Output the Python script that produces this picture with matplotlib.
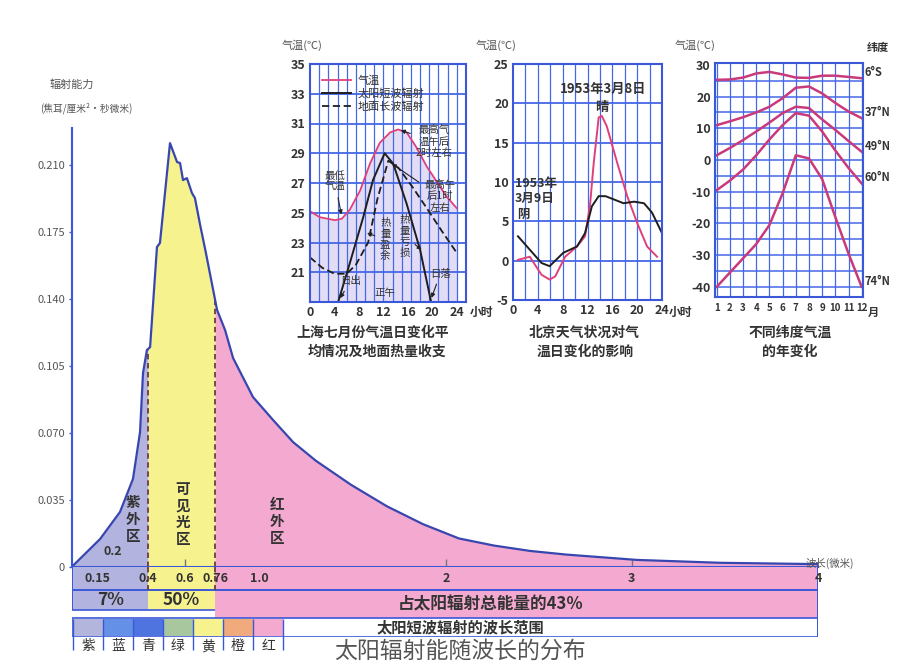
import numpy as np
import matplotlib
matplotlib.use('Agg')
import matplotlib.pyplot as plt
from matplotlib.patches import Rectangle
from matplotlib.lines import Line2D

plt.rcParams['font.family'] = ['Noto Sans CJK SC', 'DejaVu Sans']
plt.rcParams['axes.unicode_minus'] = False

# ---------------- data: solar spectrum ----------------
wavelength = [0.0, 0.142, 0.249, 0.319, 0.357, 0.373, 0.394, 0.411, 0.448, 0.464,
              0.518, 0.556, 0.572, 0.588, 0.609, 0.636, 0.652, 0.679, 0.711, 0.771,
              0.814, 0.857, 0.964, 1.072, 1.179, 1.302, 1.49, 1.684, 1.877, 2.071, 2.259,
              2.452, 2.646, 3.027, 3.473, 4.0]
irradiance = [0.001, 0.0146, 0.0287, 0.046, 0.0705, 0.1014, 0.1134, 0.1149, 0.1672, 0.1693,
              0.2215, 0.2116, 0.2111, 0.2022, 0.2032, 0.1954, 0.1928, 0.1792, 0.1641, 0.1343,
              0.1238, 0.1092, 0.0888, 0.0768, 0.0653, 0.0555, 0.043, 0.0317, 0.0224, 0.0149, 0.0112,
              0.0084, 0.0065, 0.0037, 0.0022, 0.0015]
y_ticks = [0, 0.035, 0.070, 0.105, 0.140, 0.175, 0.210]
y_tick_labels = ['0', '0.035', '0.070', '0.105', '0.140', '0.175', '0.210']
band_edges = [0.4, 0.76]
wl_tick_values = [0.13, 0.4, 0.6, 0.76, 1.0, 2, 3, 4]
wl_tick_labels = ['0.15', '0.4', '0.6', '0.76', '1.0', '2', '3', '4']
region_names = ['紫\n外\n区', '可\n见\n光\n区', '红\n外\n区']
energy_share = ['7%', '50%', '占太阳辐射总能量的43％']
color_names = ['紫', '蓝', '青', '绿', '黄', '橙', '红']

# ---------------- data: Shanghai, July daily cycle ----------------
sh_hours_temp = [0, 1.6, 4.1, 5.2, 6.5, 8.2, 9.8, 11.4, 13.1, 14.4, 15.8, 17.4, 19.1, 20.7, 22.3, 24]
sh_temp = [25.1, 24.7, 24.5, 24.6, 25.2, 26.5, 28.3, 29.7, 30.4, 30.6, 30.4, 29.4, 28.1, 27.1, 26.1, 25.3]
sh_hours_solar = [4.6, 6.5, 8.7, 10.3, 12.2, 13.6, 15.8, 18.0, 19.8]
sh_solar = [19.0, 21.6, 24.7, 27.2, 29.0, 28.3, 25.6, 22.5, 19.0]
sh_hours_ground = [0, 2, 4, 6, 7.5, 9.5, 11, 12.8, 14.5, 16.8, 19.1, 21.5, 24]
sh_ground = [22.0, 21.3, 20.9, 20.9, 21.5, 23.0, 25.9, 28.5, 28.0, 26.7, 25.3, 23.8, 22.3]

# ---------------- data: Beijing, March 1953 ----------------
bj_hours_sunny = [0.8, 2.7, 4.6, 5.9, 6.8, 8.4, 10.3, 11.6, 12.4, 13.0, 13.8, 14.3, 15.1, 16.8, 18.4, 20.0, 21.6, 23.2]
bj_sunny = [0.1, 0.5, -1.8, -2.4, -2.0, 0.5, 1.8, 3.1, 7.0, 12.4, 18.2, 18.4, 17.1, 12.4, 8.2, 4.8, 1.8, 0.5]
bj_hours_cloudy = [0.8, 2.7, 4.6, 5.9, 8.1, 10.3, 11.6, 12.7, 13.8, 14.9, 16.2, 17.8, 19.5, 21.1, 22.4, 24.0]
bj_cloudy = [3.1, 1.4, -0.3, -0.7, 1.0, 1.8, 3.5, 6.9, 8.2, 8.2, 7.8, 7.3, 7.5, 7.3, 6.1, 3.5]

# ---------------- data: annual cycle by latitude ----------------
months = list(range(1, 13))
lat_labels = ['6°S', '37°N', '49°N', '60°N', '74°N']
t_6s = [25.3, 25.4, 26.0, 27.3, 27.8, 27.0, 26.0, 25.9, 26.6, 26.6, 26.2, 25.8]
t_37n = [11.0, 12.2, 13.5, 15.0, 16.8, 19.5, 22.8, 23.2, 21.0, 18.0, 15.3, 13.2]
t_49n = [1.5, 3.8, 6.3, 9.0, 11.8, 14.8, 16.8, 16.4, 12.8, 9.5, 6.0, 2.6]
t_60n = [-9.5, -6.5, -3.0, 1.5, 6.5, 11.0, 14.8, 14.0, 9.0, 3.0, -2.5, -7.4]
t_74n = [-40, -35.5, -31, -26.5, -20.5, -10.5, 1.5, 0.5, -6.0, -18, -29.5, -40]

# ---------------- styling ----------------
W, H = 897, 669
BLUE = '#3a58d8'
GRID = '#4468e6'
LAV = '#b2b3de'
YEL = '#f6f38e'
PINK = '#f4aad0'
TXT = '#333333'
GRAY = '#555555'
swatch_colors = ['#b3b5dc', '#6590e8', '#4f74e0', '#a9c79f', '#f6f38e', '#f0aa7c', '#f4a9cf']

fig = plt.figure(figsize=(W / 100, H / 100), dpi=100)
fig.patch.set_facecolor('white')


def px_axes(x0, y0, x1, y1):
    return fig.add_axes([x0 / W, 1 - y1 / H, (x1 - x0) / W, (y1 - y0) / H])


def ptext(x, y, s, **kw):
    kw.setdefault('ha', 'center')
    kw.setdefault('va', 'center')
    kw.setdefault('color', TXT)
    return fig.text(x / W, 1 - y / H, s, **kw)


# ---------------- main spectrum axes ----------------
XMIN = -0.0086
ax = px_axes(72, 128, 818, 567)
ax.set_xlim(XMIN, 4.0)
ax.set_ylim(0, 0.2294)
ax.set_facecolor('none')
for s in ['top', 'right']:
    ax.spines[s].set_visible(False)
for s in ['left', 'bottom']:
    ax.spines[s].set_color(BLUE)
    ax.spines[s].set_linewidth(1.5)

xs = np.union1d(wavelength, band_edges)
ys = np.interp(xs, wavelength, irradiance)
regions = [(xs <= band_edges[0], LAV),
           ((xs >= band_edges[0]) & (xs <= band_edges[1]), YEL),
           (xs >= band_edges[1], PINK)]
for mask, col in regions:
    ax.fill_between(xs[mask], 0, ys[mask], color=col, lw=0)
ax.plot(wavelength, irradiance, color='#3846b0', lw=1.6, zorder=3)
ax.vlines(4.0, 0, irradiance[-1], color=BLUE, lw=1.5)
ax.vlines(band_edges, 0, np.interp(band_edges, wavelength, irradiance),
          colors='#6b3c3c', linestyles=(0, (3, 2)), lw=1.3, zorder=2)

ax.set_yticks(y_ticks)
ax.set_yticklabels(y_tick_labels)
ax.tick_params(axis='y', length=2, width=1, color=BLUE, labelsize=8, labelcolor=GRAY, pad=3)
ax.set_xticks([])
for v in [0.6, 2, 3]:
    ax.vlines(v, 0, 0.004, color='#777', lw=1)
ax.text(0.21, 0.008, '0.2', fontsize=9, color=TXT, ha='center', va='center', weight='bold')

ptext(133, 519, region_names[0], fontsize=10.5, linespacing=1.05, weight='bold')
ptext(183, 514, region_names[1], fontsize=10.5, linespacing=1.05, weight='bold')
ptext(277, 521, region_names[2], fontsize=10.5, linespacing=1.05, weight='bold')

ptext(72, 85, '辐射能力', fontsize=8, color=GRAY)
ptext(86, 108, '(焦耳/厘米²·秒微米)', fontsize=7, color=GRAY)
ptext(830, 563, '波长(微米)', fontsize=7.5, color=GRAY)

# ---------------- bands under the spectrum ----------------
bx = px_axes(72, 567, 818, 637)
bx.set_xlim(XMIN, 4.0)
bx.set_ylim(70, 0)
bx.axis('off')
spans = [(XMIN, band_edges[0], LAV), (band_edges[0], band_edges[1], YEL), (band_edges[1], 4.0, PINK)]
for lo, hi, col in spans:
    bx.add_patch(Rectangle((lo, 0), hi - lo, 23, color=col, lw=0))
for lo, hi, col in spans[:2]:
    bx.add_patch(Rectangle((lo, 23), hi - lo, 20, color=col, lw=0))
bx.add_patch(Rectangle((band_edges[1], 23), 4.0 - band_edges[1], 28, color=PINK, lw=0))
bx.add_patch(Rectangle((XMIN, 51), 4.0 - XMIN, 19, facecolor='white', edgecolor=BLUE, lw=1.2))
bx.hlines(23, XMIN, 4.0, color=BLUE, lw=1.4)
bx.hlines(43, XMIN, band_edges[1], color=BLUE, lw=1.2)
bx.vlines(4.0, 0, 70, color=BLUE, lw=1.4)
bx.vlines(XMIN, 0, 43, color=BLUE, lw=1.4)
bx.vlines(band_edges, 0, 23, colors='#6b3c3c', linestyles=(0, (3, 2)), lw=1.3)
for v, lab in zip(wl_tick_values, wl_tick_labels):
    bx.text(v, 11.5, lab, fontsize=9, color=TXT, ha='center', va='center', weight='bold')
bx.text(0.2, 33, energy_share[0], fontsize=12.5, color=TXT, ha='center', va='center', weight='bold')
bx.text(0.58, 33, energy_share[1], fontsize=12.5, color=TXT, ha='center', va='center', weight='bold')
bx.text(2.24, 38, energy_share[2], fontsize=12, color=TXT, ha='center', va='center', weight='bold')
bx.text(2.08, 60.5, '太阳短波辐射的波长范围', fontsize=11, color=TXT, ha='center', va='center', weight='bold')

# colour swatches of visible light
sx = px_axes(73, 619, 283, 636)
sx.set_xlim(-0.5, 6.5)
sx.set_ylim(0, 1)
sx.axis('off')
sx.bar(range(len(color_names)), [1] * len(color_names), width=1, color=swatch_colors, lw=0)
sx.vlines(np.arange(-0.5, 7, 1), -0.85, 1, color=BLUE, lw=1, clip_on=False)
for i, name in enumerate(color_names):
    sx.text(i, -0.6, name, fontsize=10, color=TXT, ha='center', va='center', clip_on=False)

ptext(460, 651, '太阳辐射能随波长的分布', fontsize=16.5, color=GRAY)


def style_panel(a, size=9):
    a.set_facecolor('white')
    for s in a.spines.values():
        s.set_color(BLUE)
        s.set_linewidth(1.5)
    a.tick_params(length=0, labelsize=size, labelcolor=TXT, pad=3)
    for lab in a.get_xticklabels() + a.get_yticklabels():
        lab.set_fontweight('bold')


# ---------------- panel A: Shanghai ----------------
aA = px_axes(310, 64, 466, 302)
aA.set_xlim(0, 25.5)
aA.set_ylim(19, 35)
aA.fill_between(sh_hours_temp, 19, sh_temp, color='#e2dcf5', lw=0)
for x in np.arange(1.5, 25.5, 1.5):
    aA.axvline(x, color=GRID, lw=0.9)
for y in range(21, 35, 2):
    aA.axhline(y, color=GRID, lw=1.3)
aA.plot(sh_hours_temp, sh_temp, color='#e0407a', lw=1.3)
aA.plot(sh_hours_solar, sh_solar, color='#1e1e1e', lw=1.4)
aA.plot(sh_hours_ground, sh_ground, color='#1e1e1e', lw=1.3, ls=(0, (4, 2)))
aA.set_xticks(range(0, 25, 4))
aA.set_yticks(range(21, 36, 2))
style_panel(aA)
leg_handles = [Line2D([], [], color='#e0407a', lw=1.3),
               Line2D([], [], color='#1e1e1e', lw=1.4),
               Line2D([], [], color='#1e1e1e', lw=1.3, ls=(0, (4, 2)))]
leg = aA.legend(leg_handles, ['气温', '太阳短波辐射', '地面长波辐射'], loc='upper left',
                bbox_to_anchor=(0.03, 0.985), frameon=False, fontsize=8,
                handlelength=2.6, labelspacing=0.22, borderaxespad=0.3, handletextpad=0.6)
for t in leg.get_texts():
    t.set_color(TXT)
ann = dict(fontsize=7.5, color=TXT, ha='center', va='center', linespacing=1.15)
arr = dict(arrowstyle='-|>', color='#222', lw=0.8, mutation_scale=6)
aA.annotate('最低\n气温', xy=(5.2, 24.7), xytext=(4.1, 27.1), arrowprops=arr, **ann)
aA.annotate('最高气\n温午后\n2时左右', xy=(14.4, 30.6), xytext=(20.3, 29.8), arrowprops=arr, **ann)
aA.annotate('最高午\n后1时\n左右', xy=(13.0, 28.4), xytext=(21.2, 26.1), arrowprops=arr, **ann)
aA.annotate('热\n量\n盈\n余', xy=(8.9, 23.7), xytext=(12.3, 23.2), arrowprops=arr, **ann)
aA.annotate('热\n量\n亏\n损', xy=(18.6, 22.4), xytext=(15.5, 23.4), arrowprops=arr, **ann)
aA.annotate('日出', xy=(4.7, 19.1), xytext=(6.6, 20.4), arrowprops=arr, **ann)
aA.text(12.3, 19.6, '正午', **ann)
aA.annotate('日落', xy=(19.7, 19.1), xytext=(21.3, 20.9), arrowprops=arr, **ann)
ptext(481, 312, '小时', fontsize=8.5, weight='bold')
ptext(302, 45, '气温(℃)', fontsize=8, color=GRAY)
ptext(373, 333, '上海七月份气温日变化平', fontsize=10, weight='bold')
ptext(377, 352, '均情况及地面热量收支', fontsize=10, weight='bold')

# ---------------- panel B: Beijing ----------------
aB = px_axes(513, 64, 662, 300)
aB.set_xlim(0, 24)
aB.set_ylim(-5, 25)
for x in range(2, 24, 2):
    aB.axvline(x, color=GRID, lw=0.9)
for y in range(0, 25, 5):
    aB.axhline(y, color=GRID, lw=1.3)
aB.plot(bj_hours_sunny, bj_sunny, color='#e0407a', lw=1.4)
aB.plot(bj_hours_cloudy, bj_cloudy, color='#1e1e1e', lw=1.4)
aB.set_xticks(range(0, 25, 4))
aB.set_yticks(range(-5, 26, 5))
aB.set_yticklabels([str(v) for v in range(-5, 26, 5)])
style_panel(aB)
aB.text(14.5, 21.8, '1953年3月8日', fontsize=9.5, color=TXT, ha='center', va='center', weight='bold')
aB.text(14.3, 19.5, '晴', fontsize=9.5, color=TXT, ha='center', va='center', weight='bold')
aB.text(0.3, 10.6, '1953年\n3月9日\n 阴', fontsize=9, color=TXT, ha='left', va='top',
        linespacing=1.2, weight='bold')
ptext(680, 312, '小时', fontsize=8.5, weight='bold')
ptext(496, 45, '气温(℃)', fontsize=8, color=GRAY)
ptext(584, 333, '北京天气状况对气', fontsize=10, weight='bold')
ptext(585, 352, '温日变化的影响', fontsize=10, weight='bold')

# ---------------- panel C: latitudes ----------------
aC = px_axes(715, 63, 863, 297)
aC.set_xlim(0.87, 12.1)
aC.set_ylim(-43.2, 30.6)
for x in months:
    aC.axvline(x, color=GRID, lw=0.9)
for y in range(-40, 30, 5):
    aC.axhline(y, color=GRID, lw=1.1)
lat_series = [t_6s, t_37n, t_49n, t_60n, t_74n]
for lab, ser in zip(lat_labels, lat_series):
    aC.plot(months, ser, color='#c83a7c', lw=1.8)
    aC.text(12.2, ser[-1] + 1.8, lab, fontsize=8, color=TXT, ha='left', va='center',
            weight='bold', clip_on=False)
aC.set_xticks(months)
aC.set_xticklabels([str(m) for m in months])
aC.set_yticks(range(-40, 31, 10))
aC.set_yticklabels([str(v) for v in range(-40, 31, 10)])
style_panel(aC)
aC.tick_params(axis='x', labelsize=7, pad=4)
ptext(873, 312, '月', fontsize=8, weight='bold')
ptext(878, 47, '纬度', fontsize=8, weight='bold')
ptext(695, 45, '气温(℃)', fontsize=8, color=GRAY)
ptext(790, 333, '不同纬度气温', fontsize=10, weight='bold')
ptext(790, 352, '的年变化', fontsize=10, weight='bold')

fig.savefig('out.png', dpi=100, facecolor='white')
